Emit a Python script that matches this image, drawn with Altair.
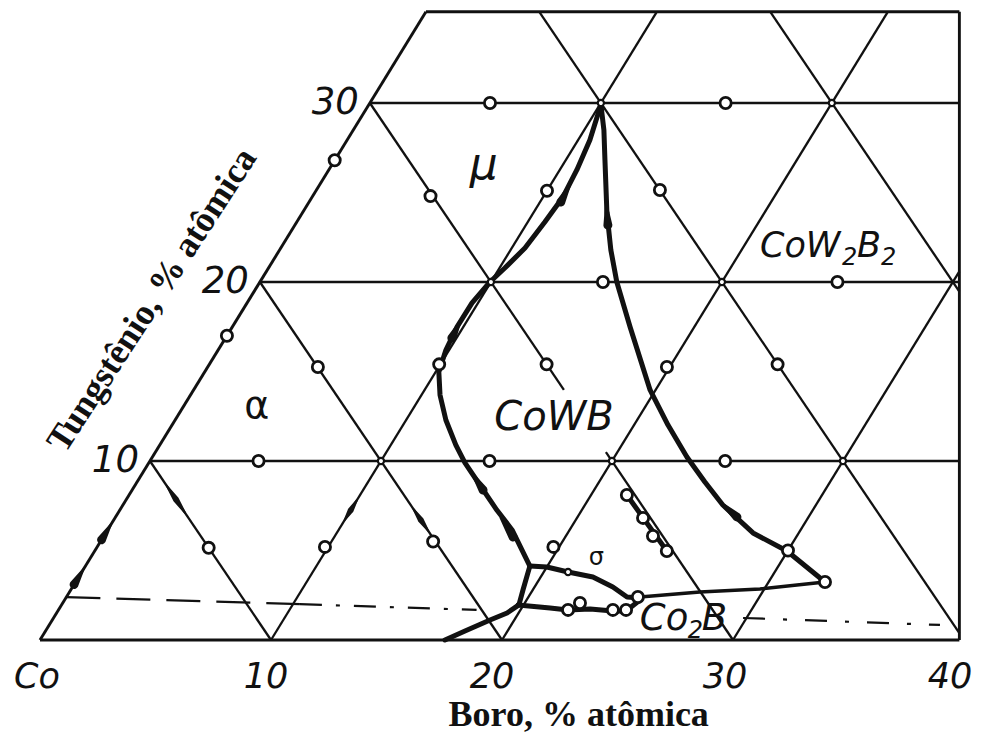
import altair as alt
import pandas as pd

# ---------------- projection / frame constants ----------------
K = 0.476            # horizontal shift per % W (skewed ternary of the scan)
W_TOP = 35.1         # top border of the cropped diagram (% W)
X_RIGHT = 39.8       # right border (projected B units)
GRID = [10, 20, 30]              # W = const, B = const lines
CO_LINES = [10, 20, 30, 40, 50]  # B + W = const lines
GAP_S30 = (10.5, 13.97)          # gap of the B+W=30 line behind "CoWB"

X_DOM = [-1.3853, 40.3896]
Y_DOM = [-5.2514, 35.3073]

# ---------------- data (B %, W %) ----------------
CURVE_A_B = [10.05, 10.51, 10.74, 10.86, 10.74, 10.57, 10.23, 9.96, 9.74, 9.73, 9.86,
             10.14, 10.80, 11.72, 12.82, 13.69, 14.92, 16.32, 17.51, 19.24]
CURVE_A_W = [29.9, 27.93, 26.26, 24.75, 23.35, 21.9, 20.78, 20.0, 18.83, 17.49, 16.2,
             14.97, 13.69, 12.29, 10.89, 9.89, 8.66, 7.26, 6.15, 4.13]

CURVE_B_B = [10.05, 10.85, 11.69, 13.19, 14.34, 15.45, 17.22, 19.76, 21.47, 23.14,
             24.58, 25.97, 28.02, 29.97]
CURVE_B_W = [29.9, 28.49, 26.82, 23.85, 21.79, 20.0, 17.49, 13.97, 12.01, 10.22,
             8.83, 7.54, 5.98, 4.97]

PQ_B = [29.97, 32.44]
PQ_W = [4.97, 3.24]

QLINE_B = [32.44, 29.81, 27.29, 24.83]
QLINE_W = [3.24, 2.85, 2.68, 2.40]

UPPER_B = [19.24, 20.0, 21.05, 22.26, 23.39, 24.27, 24.86]
UPPER_W = [4.13, 4.08, 3.8, 3.52, 2.96, 2.40, 2.35]

LOWER_B = [19.76, 21.23, 22.06, 22.99, 24.03, 24.6, 24.91]
LOWER_W = [1.96, 1.79, 1.68, 1.73, 1.62, 1.62, 2.23]

DOWN_B = [19.24, 19.58, 19.8, 19.5, 18.95, 18.16, 17.53]
DOWN_W = [4.13, 2.79, 1.96, 1.51, 1.12, 0.5, 0.0]

CHAIN_B = [21.55, 24.77]
CHAIN_W = [8.1, 4.97]

# open circles (experimental alloys)
PTS_B = [0.0, 5.1, 5.2, 10.0, 15.4, 14.87, 14.85, 25.0, 0.0, 4.77, 14.6, 9.95, 19.88,
         24.6, 4.7, 14.7, 24.9, 4.85, 9.86, 14.4, 19.75, 30.0, 21.55, 22.86, 23.77,
         24.77, 32.44, 22.39, 22.06, 24.0, 24.57, 24.74]
PTS_W = [26.8, 24.8, 30.0, 25.1, 30.0, 25.14, 20.0, 20.0, 17.0, 15.25, 15.4, 15.4, 15.25,
         15.4, 10.0, 10.0, 10.0, 5.15, 5.2, 5.5, 5.2, 5.0, 8.1, 6.82, 5.81,
         4.97, 3.24, 2.07, 1.68, 1.68, 1.68, 2.4]
SMALL_B = [21.05, 10, 20, 30, 10, 20, 10, 20]
SMALL_W = [3.8, 10, 10, 10, 20, 20, 30, 30]

# arrows: base -> tip
ARROW_B0 = [10.9, 13.55, 9.8, 15.19, 17.74, 26.9, 0.0, 0.0]
ARROW_W0 = [24.47, 23.18, 16.87, 8.38, 5.75, 6.87, 3.1, 5.6]
ARROW_B1 = [10.82, 12.8, 9.7, 14.09, 16.67, 25.63, 0.0, 0.0]
ARROW_W1 = [25.64, 24.58, 17.99, 9.5, 6.82, 7.82, 4.1, 6.6]

# thickened pieces of tie lines
TIE_B0 = [1.4, 10.0, 12.7]
TIE_W0 = [8.6, 7.8, 7.3]
TIE_B1 = [2.9, 10.0, 13.9]
TIE_W1 = [7.1, 6.7, 6.1]

# dash / dash-dot lines
DASH1_B = [0.0, 10.3]
DASH1_W = [2.4, 2.0]
DASH2_B = [10.3, 18.1]
DASH2_W = [2.0, 1.68]
DASH3_B = [29.85, 38.56]
DASH3_W = [1.23, 0.84]

# simple phase labels (centre anchor)
PHASES = ["μ", "α", "CoWB", "σ"]
PHASE_B = [6.6, 3.2, 16.35, 21.9]
PHASE_W = [26.5, 13.0, 12.4, 4.6]
# phase labels with subscripts (left/baseline anchor)
SUB_LABELS = [["Co", "W", "₂", "B", "₂"], ["Co", "₂", "B"]]
SUB_LABEL_PARTS = [["CoW", "2", "B", "2"], ["Co", "2", "B"]]
SUB_B = [20.98, 25.7]
SUB_W = [21.4, 0.56]

BOTTOM_TICKS = ["Co", "10", "20", "30", "40"]
BOTTOM_B = [0, 10, 20, 30, 40]
LEFT_TICKS = ["10", "20", "30"]
LEFT_W = [10, 20, 30]

X_TITLE = "Boro, % atômica"
Y_TITLE = "Tungstênio, % atômica"

INK = "#111111"
SANS = "DejaVu Sans"


def px(b, w):
    return b + K * w


def seg(b1, w1, b2, w2):
    return dict(x=px(b1, w1), y=w1, x2=px(b2, w2), y2=w2)


# ---------------- build tables ----------------
grid = []
for w in GRID:
    grid.append(seg(0, w, X_RIGHT - K * w, w))
for b in GRID:
    grid.append(seg(b, 0, b, min(W_TOP, (X_RIGHT - b) / K)))
for s in CO_LINES:
    wlo = max(0.0, (s - X_RIGHT) / (1 - K))
    whi = min(float(s), W_TOP)
    if whi <= wlo:
        continue
    if s == 30:
        grid.append(seg(s - wlo, wlo, s - GAP_S30[0], GAP_S30[0]))
        grid.append(seg(s - GAP_S30[1], GAP_S30[1], s - whi, whi))
    else:
        grid.append(seg(s - wlo, wlo, s - whi, whi))
grid_df = pd.DataFrame(grid)

frame_df = pd.DataFrame([
    seg(0, 0, 0, W_TOP),
    seg(0, W_TOP, X_RIGHT - K * W_TOP, W_TOP),
    seg(X_RIGHT - K * W_TOP, W_TOP, X_RIGHT, 0),
    seg(0, 0, X_RIGHT, 0),
])


def poly(name, bs, ws):
    return [dict(g=name, i=i, x=px(b, w), y=w) for i, (b, w) in enumerate(zip(bs, ws))]


thick_df = pd.DataFrame(
    poly("A", CURVE_A_B, CURVE_A_W) + poly("B", CURVE_B_B, CURVE_B_W)
    + poly("U", UPPER_B, UPPER_W) + poly("L", LOWER_B, LOWER_W)
    + poly("D", DOWN_B, DOWN_W) + poly("PQ", PQ_B, PQ_W)
    + poly("C", CHAIN_B, CHAIN_W)
)
medium_df = pd.DataFrame(poly("Q", QLINE_B, QLINE_W))

arrows = []
for j in range(len(ARROW_B0)):
    arrows.append(dict(g=j, i=0, s=9, x=px(ARROW_B0[j], ARROW_W0[j]), y=ARROW_W0[j]))
    arrows.append(dict(g=j, i=1, s=1, x=px(ARROW_B1[j], ARROW_W1[j]), y=ARROW_W1[j]))
arrow_df = pd.DataFrame(arrows)

ties = []
for j in range(len(TIE_B0)):
    mb, mw = (TIE_B0[j] + TIE_B1[j]) / 2, (TIE_W0[j] + TIE_W1[j]) / 2
    ties.append(dict(g=j, i=0, s=2, x=px(TIE_B0[j], TIE_W0[j]), y=TIE_W0[j]))
    ties.append(dict(g=j, i=1, s=6, x=px(mb, mw), y=mw))
    ties.append(dict(g=j, i=2, s=2, x=px(TIE_B1[j], TIE_W1[j]), y=TIE_W1[j]))
tie_df = pd.DataFrame(ties)

pts_df = pd.DataFrame(dict(x=[px(b, w) for b, w in zip(PTS_B, PTS_W)], y=PTS_W))
small_df = pd.DataFrame(dict(x=[px(b, w) for b, w in zip(SMALL_B, SMALL_W)], y=SMALL_W))

dash1 = pd.DataFrame([seg(DASH1_B[0], DASH1_W[0], DASH1_B[1], DASH1_W[1])])
dash2 = pd.DataFrame([seg(DASH2_B[0], DASH2_W[0], DASH2_B[1], DASH2_W[1])])
dash3 = pd.DataFrame([seg(DASH3_B[0], DASH3_W[0], DASH3_B[1], DASH3_W[1])])

phase_df = pd.DataFrame(dict(t=PHASES, x=[px(b, w) for b, w in zip(PHASE_B, PHASE_W)], y=PHASE_W))

# title anchors (B, W) in the same skew frame
XT_W = Y_DOM[0]
xt_df = pd.DataFrame(dict(t=[X_TITLE], x=[px(25.82, XT_W)], y=[XT_W]))
yt_df = pd.DataFrame(dict(t=[Y_TITLE], x=[px(-4.19, 19.0)], y=[19.0]))

# ---------------- encodings ----------------
XS = alt.Scale(domain=X_DOM, nice=False, zero=False)
YS = alt.Scale(domain=Y_DOM, nice=False, zero=False)
X = alt.X("x:Q", scale=XS, axis=None)
Y = alt.Y("y:Q", scale=YS, axis=None)


def rules(df, **kw):
    return alt.Chart(df).mark_rule(color=INK, **kw).encode(
        x=X, y=Y, x2=alt.X2("x2:Q"), y2=alt.Y2("y2:Q"))


def label(df, **kw):
    return alt.Chart(df).mark_text(color=INK, **kw).encode(x=X, y=Y, text="t:N")


grid_l = rules(grid_df, strokeWidth=2.3)
frame_l = rules(frame_df, strokeWidth=2.9)
d1 = rules(dash1, strokeWidth=2.2, strokeDash=[34, 16])
d2 = rules(dash2, strokeWidth=2.2, strokeDash=[22, 14, 4, 14])
d3 = rules(dash3, strokeWidth=2.2, strokeDash=[22, 18, 4, 18])

thick_l = alt.Chart(thick_df).mark_line(color=INK, strokeWidth=5, strokeCap="round",
                                        strokeJoin="round").encode(
    x=X, y=Y, detail="g:N", order="i:Q")
medium_l = alt.Chart(medium_df).mark_line(color=INK, strokeWidth=3.5, strokeCap="round",
                                          strokeJoin="round").encode(
    x=X, y=Y, detail="g:N", order="i:Q")

arrow_l = alt.Chart(arrow_df).mark_trail(color=INK).encode(
    x=X, y=Y, detail="g:N", order="i:Q", size=alt.Size("s:Q", scale=None))
tie_l = alt.Chart(tie_df).mark_trail(color=INK).encode(
    x=X, y=Y, detail="g:N", order="i:Q", size=alt.Size("s:Q", scale=None))

pts_l = alt.Chart(pts_df).mark_point(shape="circle", fill="white", stroke=INK,
                                     strokeWidth=2.8, size=125, opacity=1,
                                     fillOpacity=1).encode(x=X, y=Y)
small_l = alt.Chart(small_df).mark_point(shape="circle", fill="white", stroke=INK,
                                         strokeWidth=2.2, size=38, opacity=1,
                                         fillOpacity=1).encode(x=X, y=Y)

phase_sizes = {"μ": 44, "α": 38, "CoWB": 40, "σ": 24}
phase_layers = []
for name, size in phase_sizes.items():
    sub = phase_df[phase_df.t == name]
    style = "normal" if name in ("α", "σ") else "italic"
    phase_layers.append(label(sub, font=SANS, fontSize=size, fontStyle=style,
                              align="center", baseline="middle"))

# labels with real subscripts built from parts
sub_styles = [
    [(35, 0, 0), (24, 82, 8), (35, 97, 0), (24, 121, 8)],   # CoW2B2
    [(37, 0, 0), (24, 48, 8), (37, 62, 0)],                 # Co2B
]
for k_lab, parts in enumerate(SUB_LABEL_PARTS):
    for part, (fs, dx, dy) in zip(parts, sub_styles[k_lab]):
        d = pd.DataFrame(dict(t=[part], x=[px(SUB_B[k_lab], SUB_W[k_lab])], y=[SUB_W[k_lab]]))
        phase_layers.append(label(d, font=SANS, fontSize=fs, fontStyle="italic",
                                  align="left", baseline="alphabetic", dx=dx, dy=dy))

tick_layers = []
bottom_dx = {"Co": -3, "10": -5, "20": -10, "30": -8, "40": -14}
for t, b in zip(BOTTOM_TICKS, BOTTOM_B):
    d = pd.DataFrame(dict(t=[t], x=[float(b)], y=[0.0]))
    tick_layers.append(label(d, font=SANS, fontSize=35, fontStyle="italic",
                             align="center", baseline="middle", dx=bottom_dx[t], dy=37))
left_df = pd.DataFrame(dict(t=LEFT_TICKS, x=[K * w for w in LEFT_W], y=LEFT_W))
tick_layers.append(label(left_df, font=SANS, fontSize=37, fontStyle="italic",
                         align="right", baseline="middle", dx=-11))

xt_l = label(xt_df, font="Liberation Serif", fontSize=36, fontWeight="bold",
             align="center", baseline="bottom")
yt_l = label(yt_df, font="Liberation Serif", fontSize=36, fontWeight="bold",
             align="center", baseline="middle", angle=303)

chart = alt.layer(
    grid_l, frame_l, d1, d2, d3, tie_l, medium_l, thick_l, arrow_l,
    small_l, pts_l, *phase_layers, *tick_layers, xt_l, yt_l
).properties(
    width=965, height=726, padding=0,
    autosize=alt.AutoSizeParams(type="none"),
    background="white",
).configure_view(stroke=None)

chart.save("out.html", embed_options={"renderer": "svg", "actions": False})
